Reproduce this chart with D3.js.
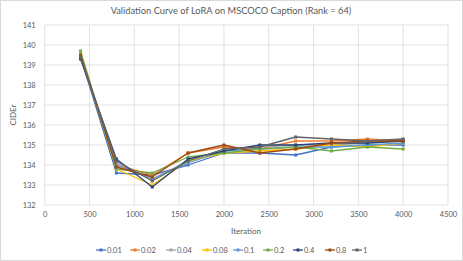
<!DOCTYPE html>
<html><head><meta charset="utf-8">
<script src="https://cdn.jsdelivr.net/npm/d3@7"></script>
<style>body{margin:0;background:#fff;}svg{display:block;font-family:Lato,"Liberation Sans",sans-serif;}</style>
</head><body><svg id="c" width="463" height="261"></svg>
<script>
const iterations = [400, 800, 1200, 1600, 2000, 2400, 2800, 3200, 3600, 4000];
const seriesNames = ["0.01","0.02","0.04","0.08","0.1","0.2","0.4","0.8","1"];
const s001 = [139.4, 133.6, 133.5, 134.0, 134.6, 134.6, 134.5, 134.9, 135.0, 135.0];
const s002 = [139.5, 134.0, 133.5, 134.6, 134.9, 134.8, 135.2, 135.2, 135.3, 135.2];
const s004 = [139.4, 134.1, 133.3, 134.2, 134.8, 134.9, 135.0, 135.0, 135.1, 135.2];
const s008 = [139.6, 133.8, 133.0, 134.2, 134.6, 134.7, 134.8, 135.0, 134.9, 135.1];
const s01  = [139.4, 134.0, 133.3, 134.1, 134.7, 134.8, 134.9, 134.9, 135.0, 135.1];
const s02  = [139.7, 133.8, 133.6, 134.4, 134.6, 134.8, 134.9, 134.7, 134.9, 134.8];
const s04  = [139.3, 134.3, 132.9, 134.3, 134.7, 135.0, 135.0, 135.1, 135.1, 135.2];
const s08  = [139.5, 133.9, 133.4, 134.6, 135.0, 134.6, 134.8, 135.1, 135.2, 135.2];
const s1   = [139.4, 134.2, 133.2, 134.2, 134.8, 134.9, 135.4, 135.3, 135.2, 135.3];
const seriesValues = [s001, s002, s004, s008, s01, s02, s04, s08, s1];
const colors = ["#4472C4","#ED7D31","#A5A5A5","#FFC000","#5B9BD5","#70AD47","#264478","#9E480E","#636363"];
const xTicks = [0,500,1000,1500,2000,2500,3000,3500,4000,4500];
const yTicks = [132,133,134,135,136,137,138,139,140,141];

const svg = d3.select("#c");
svg.append("rect").attr("x",0.5).attr("y",0.5).attr("width",462).attr("height",260).attr("fill","#fff").attr("stroke","#d9d9d9");
const L=44.7,R=448,T=25,B=205;
const x = d3.scaleLinear().domain([0,4500]).range([L,R]);
const y = d3.scaleLinear().domain([132,141]).range([B,T]);
const tc="#595959";
svg.append("g").selectAll("line").data(yTicks).join("line")
  .attr("x1",L).attr("x2",R).attr("y1",d=>y(d)).attr("y2",d=>y(d)).attr("stroke","#d9d9d9").attr("stroke-width",0.75);
svg.append("g").selectAll("line").data(xTicks).join("line")
  .attr("y1",T).attr("y2",B).attr("x1",d=>x(d)).attr("x2",d=>x(d)).attr("stroke","#d9d9d9").attr("stroke-width",0.75);
const yAxis = d3.axisLeft(y).tickValues(yTicks).tickSize(0).tickPadding(9).tickFormat(d3.format("d"));
const gy = svg.append("g").attr("transform",`translate(${L},0)`).call(yAxis);
gy.select(".domain").remove();
gy.selectAll("text").attr("fill",tc).attr("font-size",7.5).attr("font-family","Lato,sans-serif");
const xAxis = d3.axisBottom(x).tickValues(xTicks).tickSize(0).tickPadding(7).tickFormat(d3.format("d"));
const gx = svg.append("g").attr("transform",`translate(0,${B})`).call(xAxis);
gx.select(".domain").remove();
gx.selectAll("text").attr("fill",tc).attr("font-size",7.5).attr("font-family","Lato,sans-serif");
svg.append("text").attr("x",231).attr("y",14).attr("text-anchor","middle").attr("fill",tc).attr("font-size",9.3).text("Validation Curve of LoRA on MSCOCO Caption (Rank = 64)");
svg.append("text").attr("x",246).attr("y",234).attr("text-anchor","middle").attr("fill",tc).attr("font-size",8).text("Iteration");
svg.append("text").attr("transform","translate(16,115) rotate(-90)").attr("text-anchor","middle").attr("fill",tc).attr("font-size",8).text("CIDEr");
const line = d3.line().x((d,i)=>x(iterations[i])).y(d=>y(d));
seriesValues.forEach((vals,k)=>{
  const g = svg.append("g");
  g.append("path").datum(vals).attr("d",line).attr("fill","none").attr("stroke",colors[k]).attr("stroke-width",1.3).attr("stroke-linejoin","round");
  g.selectAll("rect").data(vals).join("rect")
    .attr("x",(d,i)=>x(iterations[i])-1.5).attr("y",d=>y(d)-1.5).attr("width",3).attr("height",3).attr("fill",colors[k]);
});
const legX=[96,130,166,202,233,263,293,325,352];
const lg = svg.append("g");
seriesNames.forEach((n,k)=>{
  const g = lg.append("g").attr("transform",`translate(${legX[k]},250)`);
  g.append("line").attr("x1",0).attr("x2",10).attr("stroke",colors[k]).attr("stroke-width",1.3);
  g.append("rect").attr("x",3.5).attr("y",-1.5).attr("width",3).attr("height",3).attr("fill",colors[k]);
  g.append("text").attr("x",11).attr("y",2.8).attr("fill",tc).attr("font-size",7.5).text(n);
});
</script></body></html>
